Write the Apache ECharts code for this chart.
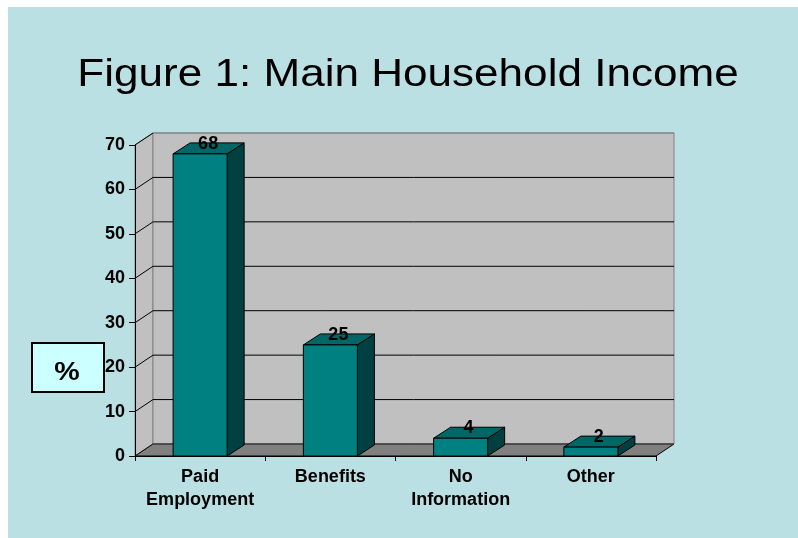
<!DOCTYPE html>
<html>
<head>
<meta charset="utf-8">
<script src="https://cdn.jsdelivr.net/npm/echarts@6/dist/echarts.min.js"></script>
<style>
html,body{margin:0;padding:0;background:#fff;}
#chart{width:798px;height:538px;}
</style>
</head>
<body>
<div id="chart"></div>
<script>
const titleText = 'Figure 1: Main Household Income';
const unitLabel = '%';
const categories = ['Paid\nEmployment', 'Benefits', 'No\nInformation', 'Other'];
const values = [68, 25, 4, 2];
const yTicks = [0, 10, 20, 30, 40, 50, 60, 70];

const FONT = '"Liberation Sans", Arial, sans-serif';
const WALL_DX = 18, WALL_DY = 12;
const BAR_DX = 17, BAR_DY = 11;

const chart = echarts.init(document.getElementById('chart'), null, {renderer: 'canvas'});

function renderWalls(params, api) {
  const cs = params.coordSys;
  const x0 = cs.x, x1 = cs.x + cs.width;
  const y0 = api.coord([0, yTicks[0]])[1];
  const yTop = api.coord([0, yTicks[yTicks.length - 1]])[1];
  const children = [];
  // side wall
  children.push({type: 'polygon', shape: {points: [[x0, y0], [x0, yTop], [x0 + WALL_DX, yTop - WALL_DY], [x0 + WALL_DX, y0 - WALL_DY]]},
    style: {fill: '#C0C0C0', stroke: '#808080', lineWidth: 1}});
  // back wall
  children.push({type: 'rect', shape: {x: x0 + WALL_DX, y: yTop - WALL_DY, width: x1 - x0, height: y0 - yTop}},
    );
  children[1].style = {fill: '#C0C0C0', stroke: '#808080', lineWidth: 1};
  // floor
  children.push({type: 'polygon', shape: {points: [[x0, y0], [x1, y0], [x1 + WALL_DX, y0 - WALL_DY], [x0 + WALL_DX, y0 - WALL_DY]]},
    style: {fill: '#808080', stroke: '#000', lineWidth: 1}});
  // gridlines
  yTicks.forEach(function (v, i) {
    const y = api.coord([0, v])[1];
    const isEdge = (i === yTicks.length - 1);
    const col = isEdge ? '#808080' : '#000';
    if (i > 0) {
      children.push({type: 'line', shape: {x1: x0, y1: y, x2: x0 + WALL_DX, y2: y - WALL_DY}, style: {stroke: '#000', lineWidth: 1}});
      children.push({type: 'line', shape: {x1: x0 + WALL_DX, y1: y - WALL_DY, x2: x1 + WALL_DX, y2: y - WALL_DY}, style: {stroke: col, lineWidth: 1}});
    } else {
      children.push({type: 'line', shape: {x1: x0, y1: y, x2: x0 + WALL_DX, y2: y - WALL_DY}, style: {stroke: '#333', lineWidth: 1, lineDash: [2, 2]}});
      children.push({type: 'line', shape: {x1: x0 + WALL_DX, y1: y - WALL_DY, x2: x1 + WALL_DX, y2: y - WALL_DY}, style: {stroke: '#555', lineWidth: 1}});
    }
  });
  return {type: 'group', children: children};
}

function renderBar(params, api) {
  const idx = api.value(0);
  const val = api.value(1);
  const top = api.coord([idx, val]);
  const base = api.coord([idx, 0]);
  const band = api.size([1, 0])[0];
  const w = band * 0.415;
  const xl = top[0] - w / 2, xr = top[0] + w / 2;
  const yt = top[1], yb = base[1];
  const stroke = {stroke: '#000', lineWidth: 1};
  return {
    type: 'group',
    children: [
      {type: 'polygon', shape: {points: [[xr, yt], [xr + BAR_DX, yt - BAR_DY], [xr + BAR_DX, yb - BAR_DY], [xr, yb]]},
        style: Object.assign({fill: '#004040'}, stroke)},
      {type: 'polygon', shape: {points: [[xl, yt], [xr, yt], [xr + BAR_DX, yt - BAR_DY], [xl + BAR_DX, yt - BAR_DY]]},
        style: Object.assign({fill: '#006666'}, stroke)},
      {type: 'rect', shape: {x: xl, y: yt, width: w, height: yb - yt},
        style: Object.assign({fill: '#008080'}, stroke)},
      {type: 'text', x: top[0] + 8, y: yt - 10,
        style: {text: String(val), x: 0, y: 0, fill: '#000', font: 'bold 18px ' + FONT,
          textAlign: 'center', textVerticalAlign: 'middle', align: 'center', verticalAlign: 'middle'}}
    ]
  };
}

const option = {
  backgroundColor: '#ffffff',
  animation: false,
  graphic: [
    {type: 'rect', z: -10, shape: {x: 8, y: 7, width: 800, height: 540}, style: {fill: '#BBE0E3'}, silent: true},
    {type: 'text', z: 10, x: 408, y: 75, scaleX: 1.13,
      style: {text: titleText, x: 0, y: 0, fill: '#000', font: '39px ' + FONT,
        textAlign: 'center', textVerticalAlign: 'middle', align: 'center', verticalAlign: 'middle'}},
    {type: 'group', z: 10, children: [
      {type: 'rect', shape: {x: 32, y: 343, width: 72, height: 49}, style: {fill: '#CCFFFF', stroke: '#000', lineWidth: 2}},
      {type: 'text', x: 67, y: 373, scaleX: 1.1,
        style: {text: unitLabel, x: 0, y: 0, fill: '#000', font: 'bold 26px ' + FONT,
          textAlign: 'center', textVerticalAlign: 'middle', align: 'center', verticalAlign: 'middle'}}
    ]}
  ],
  grid: {left: 135, right: 142, top: 145, bottom: 82, containLabel: false},
  xAxis: {
    type: 'category',
    data: categories,
    z: 5,
    axisLine: {show: true, lineStyle: {color: '#000', width: 1}},
    axisTick: {show: true, length: 5, lineStyle: {color: '#000'}},
    axisLabel: {interval: 0, margin: 10, color: '#000', fontFamily: FONT, fontWeight: 'bold', fontSize: 18, lineHeight: 23},
    splitLine: {show: false}
  },
  yAxis: {
    type: 'value',
    min: 0, max: 70, interval: 10,
    z: 5,
    axisLine: {show: true, lineStyle: {color: '#000', width: 1}},
    axisTick: {show: true, length: 6, lineStyle: {color: '#000'}},
    axisLabel: {margin: 10, color: '#000', fontFamily: FONT, fontWeight: 'bold', fontSize: 18},
    splitLine: {show: false}
  },
  series: [
    {type: 'custom', z: 1, silent: true, renderItem: renderWalls, data: [[0, 0]], clip: false},
    {type: 'custom', z: 3, silent: true, renderItem: renderBar, data: values.map(function (v, i) { return [i, v]; }), clip: false}
  ]
};
chart.setOption(option);
</script>
</body>
</html>
